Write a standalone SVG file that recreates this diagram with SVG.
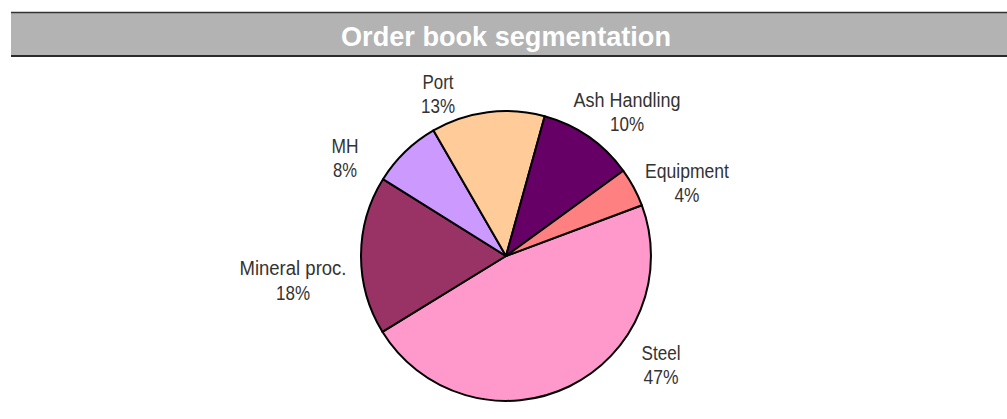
<svg xmlns="http://www.w3.org/2000/svg" width="1007" height="419" viewBox="0 0 1007 419">
<style>
.lbl{font-family:"Liberation Sans",Arial,sans-serif;font-size:20px;fill:#333;text-anchor:middle}
.slice{stroke:#000;stroke-width:2;stroke-linejoin:round}
.title{font-family:"Liberation Sans",Arial,sans-serif;font-size:27px;font-weight:bold;fill:#fff;text-anchor:middle}
</style>
<rect width="1007" height="419" fill="#fff"/>
<g id="header">
<rect x="11" y="12" width="996" height="44" fill="#b3b3b4"/>
<line x1="11" y1="12.5" x2="1007" y2="12.5" stroke="#333" stroke-width="1.5"/>
<line x1="11" y1="56" x2="1007" y2="56" stroke="#2a2a2a" stroke-width="2"/>
<text class="title" x="506" y="46" textLength="330" lengthAdjust="spacingAndGlyphs">Order book segmentation</text>
</g>
<g id="pie">
<path id="steel" class="slice" fill="#FF99CC" d="M506,256 L641.8,205.2 A145,145 0 0 1 382.4,331.8 Z"/>
<path id="mineral" class="slice" fill="#993366" d="M506,256 L382.4,331.8 A145,145 0 0 1 383.0,179.2 Z"/>
<path id="mh" class="slice" fill="#CC99FF" d="M506,256 L383.0,179.2 A145,145 0 0 1 433.5,130.4 Z"/>
<path id="port" class="slice" fill="#FFCC99" d="M506,256 L433.5,130.4 A145,145 0 0 1 544.7,116.3 Z"/>
<path id="ash" class="slice" fill="#660066" d="M506,256 L544.7,116.3 A145,145 0 0 1 623.3,170.8 Z"/>
<path id="equipment" class="slice" fill="#FF8080" d="M506,256 L623.3,170.8 A145,145 0 0 1 641.8,205.2 Z"/>
</g>
<g id="labels">
<text class="lbl" x="438" y="89" textLength="31" lengthAdjust="spacingAndGlyphs">Port</text>
<text class="lbl" x="438" y="113" textLength="34" lengthAdjust="spacingAndGlyphs">13%</text>
<text class="lbl" x="345" y="153" textLength="27" lengthAdjust="spacingAndGlyphs">MH</text>
<text class="lbl" x="345" y="177" textLength="24" lengthAdjust="spacingAndGlyphs">8%</text>
<text class="lbl" x="627" y="107" textLength="107" lengthAdjust="spacingAndGlyphs">Ash Handling</text>
<text class="lbl" x="627" y="131" textLength="34" lengthAdjust="spacingAndGlyphs">10%</text>
<text class="lbl" x="687" y="178" textLength="84" lengthAdjust="spacingAndGlyphs">Equipment</text>
<text class="lbl" x="687" y="202" textLength="25" lengthAdjust="spacingAndGlyphs">4%</text>
<text class="lbl" x="293" y="275" textLength="107" lengthAdjust="spacingAndGlyphs">Mineral proc.</text>
<text class="lbl" x="293" y="300" textLength="34" lengthAdjust="spacingAndGlyphs">18%</text>
<text class="lbl" x="661" y="360" textLength="39" lengthAdjust="spacingAndGlyphs">Steel</text>
<text class="lbl" x="661" y="384" textLength="35" lengthAdjust="spacingAndGlyphs">47%</text>
</g>
</svg>
